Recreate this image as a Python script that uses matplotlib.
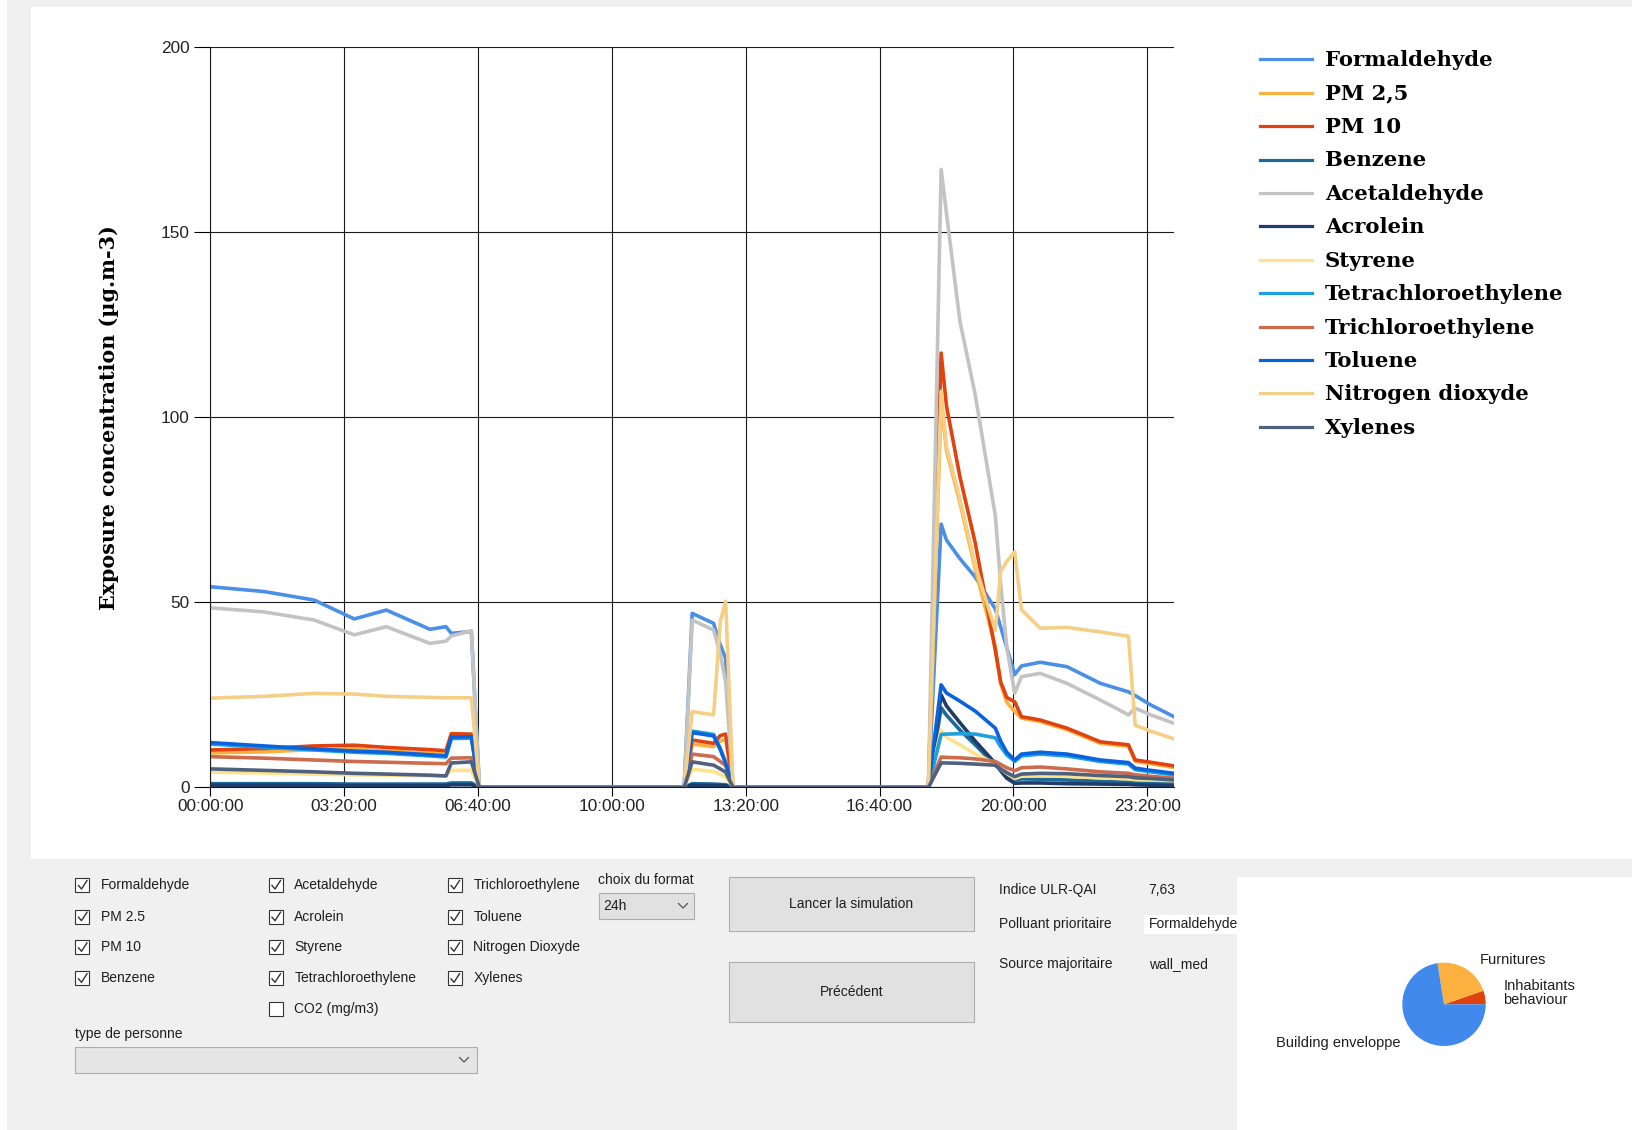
import matplotlib
matplotlib.use('Agg')
import matplotlib.pyplot as plt
from matplotlib.patches import Rectangle
from matplotlib.lines import Line2D

# Time axis in minutes from midnight (shared by every series).
minutes = [0, 80, 155, 215, 263, 328, 352, 360, 390, 402,
           708, 720, 752, 762, 770, 781,
           1073, 1092, 1100, 1120, 1143, 1173, 1181, 1190, 1202, 1212,
           1240, 1280, 1330, 1372, 1382, 1405, 1440]

# Exposure concentrations (ug/m3).
formaldehyde = [54.2, 52.9, 50.6, 45.5, 47.9, 42.7, 43.4, 41.6, 42.1, 0,
                0, 47.0, 44.3, 38.5, 34.8, 0,
                0, 71.1, 66.8, 61.8, 56.8, 48.2, 43.3, 37.8, 30.5, 32.8,
                33.8, 32.6, 28.1, 25.8, 24.8, 22.3, 19.1]
pm25 = [9.3, 9.6, 10.2, 10.4, 9.8, 9.3, 9.0, 13.6, 13.5, 0,
        0, 11.7, 11.0, 12.5, 13.0, 0,
        0, 104.0, 91.0, 77.0, 59.0, 38.0, 28.0, 23.0, 20.5, 18.7,
        17.8, 15.6, 11.9, 11.1, 7.0, 6.4, 5.4]
pm10 = [10.1, 10.5, 11.2, 11.4, 10.8, 10.2, 9.9, 14.5, 14.4, 0,
        0, 12.8, 11.9, 14.0, 14.4, 0,
        0, 117.3, 103.0, 84.0, 66.0, 37.0, 28.5, 24.3, 23.1, 19.1,
        18.2, 16.0, 12.3, 11.5, 7.4, 6.8, 5.8]
benzene = [1.0, 1.0, 1.0, 0.9, 0.9, 0.9, 0.9, 1.2, 1.2, 0,
           0, 1.0, 0.9, 0.8, 0.7, 0,
           0, 21.5, 19.5, 15.5, 11.5, 6.0, 4.8, 3.5, 2.0, 2.3,
           2.2, 2.0, 1.6, 1.4, 1.2, 1.1, 1.0]
acetaldehyde = [48.5, 47.4, 45.2, 41.2, 43.4, 38.9, 39.5, 40.9, 42.3, 0,
                0, 45.2, 42.5, 36.0, 28.5, 0,
                0, 166.9, 155.0, 126.0, 106.0, 73.4, 55.0, 38.0, 25.4, 29.9,
                30.8, 28.1, 23.6, 19.6, 21.4, 19.6, 17.3]
acrolein = [0.6, 0.6, 0.6, 0.5, 0.5, 0.5, 0.5, 0.7, 0.7, 0,
            0, 0.6, 0.5, 0.5, 0.4, 0,
            0, 25.0, 22.0, 17.5, 12.5, 6.5, 4.5, 2.5, 1.1, 1.2,
            1.2, 1.0, 0.9, 0.8, 0.7, 0.6, 0.5]
styrene = [4.1, 3.9, 3.6, 3.4, 3.3, 3.1, 3.0, 4.6, 4.6, 0,
           0, 4.9, 4.3, 3.5, 2.8, 0,
           0, 15.5, 13.5, 11.5, 9.0, 6.5, 5.0, 3.8, 2.4, 3.0,
           3.1, 3.0, 2.6, 2.3, 2.1, 2.0, 1.8]
tetrachloroethylene = [11.7, 10.9, 10.1, 9.5, 9.2, 8.5, 8.2, 13.2, 13.3, 0,
                       0, 15.2, 14.3, 10.5, 6.8, 0,
                       0, 14.3, 14.4, 14.5, 14.4, 13.4, 11.0, 8.8, 7.0, 8.5,
                       9.0, 8.5, 7.0, 6.3, 4.8, 4.2, 3.4]
trichloroethylene = [8.3, 7.9, 7.4, 7.0, 6.8, 6.5, 6.4, 7.9, 8.0, 0,
                     0, 9.0, 8.3, 7.0, 5.9, 0,
                     0, 8.2, 8.1, 8.0, 7.7, 7.0, 6.2, 5.3, 4.5, 5.3,
                     5.5, 5.0, 4.2, 3.8, 3.4, 3.0, 2.5]
toluene = [12.1, 11.2, 10.4, 9.8, 9.5, 8.8, 8.5, 13.6, 13.7, 0,
           0, 14.8, 13.9, 10.2, 6.5, 0,
           0, 27.7, 25.5, 23.3, 20.6, 16.0, 12.5, 9.5, 7.4, 9.0,
           9.5, 9.0, 7.4, 6.7, 5.2, 4.6, 3.8]
nitrogen_dioxyde = [24.1, 24.6, 25.4, 25.2, 24.6, 24.3, 24.2, 24.2, 24.2, 0,
                    0, 20.5, 19.6, 44.8, 50.3, 0,
                    0, 107.0, 92.0, 78.0, 60.0, 42.4, 58.4, 61.0, 63.6, 48.0,
                    43.0, 43.2, 42.0, 40.8, 16.8, 15.2, 13.1]
xylenes = [5.0, 4.6, 4.2, 3.8, 3.6, 3.3, 3.1, 6.6, 6.9, 0,
           0, 6.9, 6.0, 5.0, 4.1, 0,
           0, 6.6, 6.6, 6.5, 6.3, 6.0, 5.0, 4.0, 2.9, 3.6,
           3.8, 3.7, 3.2, 2.9, 2.6, 2.4, 2.0]

names = ['Formaldehyde', 'PM 2,5', 'PM 10', 'Benzene', 'Acetaldehyde', 'Acrolein',
         'Styrene', 'Tetrachloroethylene', 'Trichloroethylene', 'Toluene',
         'Nitrogen dioxyde', 'Xylenes']
series = [formaldehyde, pm25, pm10, benzene, acetaldehyde, acrolein, styrene,
          tetrachloroethylene, trichloroethylene, toluene, nitrogen_dioxyde, xylenes]
colors = ['#4a8fe8', '#fbb040', '#e0430f', '#1c6a98', '#c3c3c3', '#1f3c6b',
          '#fde38c', '#1fa0dd', '#cd6b4e', '#0a62dc', '#f5cf86', '#50607f']

tick_minutes = [0, 200, 400, 600, 800, 1000, 1200, 1400]
tick_labels = ['00:00:00', '03:20:00', '06:40:00', '10:00:00',
               '13:20:00', '16:40:00', '20:00:00', '23:20:00']

# Source pie.
source_labels = ['Inhabitants\nbehaviour', 'Furnitures', 'Building enveloppe']
source_share = [5.3, 22.2, 72.5]
source_colors = ['#e0430f', '#fbb040', '#4189ec']

W, H = 1633, 1130
fig = plt.figure(figsize=(W / 100, H / 100), dpi=100, facecolor='#f0f0f0')


def fx(x):
    return x / W


def fy(y):
    return 1 - y / H


def box(x0, y0, x1, y1, fc, ec='none', lw=0.8):
    # panels sit below the axes (zorder 0)
    fig.add_artist(Rectangle((fx(x0), fy(y1)), (x1 - x0) / W, (y1 - y0) / H,
                             transform=fig.transFigure, facecolor=fc,
                             edgecolor=ec, linewidth=lw, zorder=-1))


def seg(xs, ys, color, lw=1.0):
    fig.add_artist(Line2D([fx(x) for x in xs], [fy(y) for y in ys],
                          transform=fig.transFigure, color=color, linewidth=lw))


def label(x, y, s, size=10, ha='left', va='center', **kw):
    fig.text(fx(x), fy(y), s, fontsize=size, ha=ha, va=va,
             family='Liberation Sans', color='#1e1e1e', **kw)


# Window panels.
box(0, 0, 7, H, 'white')
box(31, 7, W, 859, 'white')
box(1237, 877, W, H, 'white')

# Main chart.
ax = fig.add_axes([fx(210.4), fy(787.4), (1174 - 210.4) / W, (787.4 - 46.9) / H])
ax.patch.set_visible(False)
for values, color in zip(series, colors):
    ax.plot(minutes, values, color=color, lw=2.6, solid_joinstyle='round')

ax.set_xlim(0, 1440)
ax.set_ylim(0, 200)
ax.set_xticks(tick_minutes, tick_labels)
ax.set_yticks([0, 50, 100, 150, 200])
ax.grid(True, color='#1a1a1a', lw=0.8)
ax.set_axisbelow(True)
for side in ['top', 'right']:
    ax.spines[side].set_visible(False)
for side in ['left', 'bottom']:
    ax.spines[side].set_color('#1a1a1a')
    ax.spines[side].set_linewidth(0.8)
ax.tick_params(axis='y', length=11.5, width=0.8, pad=3.5, labelsize=12.4,
               labelcolor='#222222')
ax.tick_params(axis='x', length=6.2, width=0.8, pad=2.5, labelsize=12.4,
               labelcolor='#222222')
for t in ax.get_xticklabels() + ax.get_yticklabels():
    t.set_family('Liberation Sans')

fig.text(fx(109), fy(417.6), 'Exposure concentration (µg.m-3)', rotation=90,
         ha='center', va='center', family='DejaVu Serif', weight='bold',
         fontsize=14.9)

# Legend.
for i, (name, color) in enumerate(zip(names, colors)):
    y = 59.3 + 33.4 * i
    seg([1260, 1312], [y, y], color, lw=2.3)
    fig.text(fx(1325), fy(y + 7), name, family='DejaVu Serif', weight='bold',
             fontsize=15.2, va='baseline')


# Controls.
def checkbox(x, yc, text, checked=True):
    box(x, yc - 7, x + 14, yc + 7, 'white', '#333333', lw=0.8)
    if checked:
        seg([x + 3, x + 6, x + 11.5], [yc + 0.5, yc + 4, yc - 4.5], '#333333', lw=1.0)
    label(x + 25.3, yc, text)


def chevron(xc, yc):
    seg([xc - 4.5, xc, xc + 4.5], [yc - 2.5, yc + 2, yc - 2.5], '#555555', lw=0.9)


rows = [885, 916.7, 947.3, 978.3, 1009]
for yc, text in zip(rows, ['Formaldehyde', 'PM 2.5', 'PM 10', 'Benzene']):
    checkbox(75.5, yc, text)
for yc, text in zip(rows, ['Acetaldehyde', 'Acrolein', 'Styrene', 'Tetrachloroethylene']):
    checkbox(269, yc, text)
checkbox(269, rows[4], 'CO2 (mg/m3)', checked=False)
for yc, text in zip(rows, ['Trichloroethylene', 'Toluene', 'Nitrogen Dioxyde', 'Xylenes']):
    checkbox(448, yc, text)

label(598, 880, 'choix du format')
box(598.8, 893.3, 693.5, 919.3, '#e1e1e1', '#adadad')
label(603.5, 906.5, '24h')
chevron(683, 906)

label(75.5, 1034, 'type de personne')
box(75.5, 1046.7, 477, 1073.3, '#e5e5e5', '#adadad')
chevron(464, 1060)

box(729.3, 876.7, 973.8, 931, '#e1e1e1', '#adadad')
label(851.5, 904.3, 'Lancer la simulation', ha='center')
box(729.3, 962.3, 973.8, 1021.7, '#e1e1e1', '#adadad')
label(851.5, 992.5, 'Précédent', ha='center')

label(999, 890, 'Indice ULR-QAI')
label(1148.7, 890, '7,63')
label(999, 924.3, 'Polluant prioritaire')
box(1144, 915, 1240, 933.5, 'white')
label(1148.7, 924.3, 'Formaldehyde')
label(999, 964, 'Source majoritaire')
label(1148.7, 964, 'wall_med')

# Pie of pollutant sources.
r = 41.7
ax_pie = fig.add_axes([fx(1444 - r), fy(1004.3 + r), 2 * r / W, 2 * r / H])
ax_pie.pie(source_share, colors=source_colors, startangle=0, counterclock=True)
ax_pie.set_xlim(-1, 1)
ax_pie.set_ylim(-1, 1)
ax_pie.axis('off')

label(1480, 960, source_labels[1], size=10.5)
label(1503.3, 992.5, source_labels[0], size=10.5, linespacing=1.0)
label(1275.7, 1042.7, source_labels[2], size=10.5)

fig.savefig('out.png', dpi=100, facecolor=fig.get_facecolor())
